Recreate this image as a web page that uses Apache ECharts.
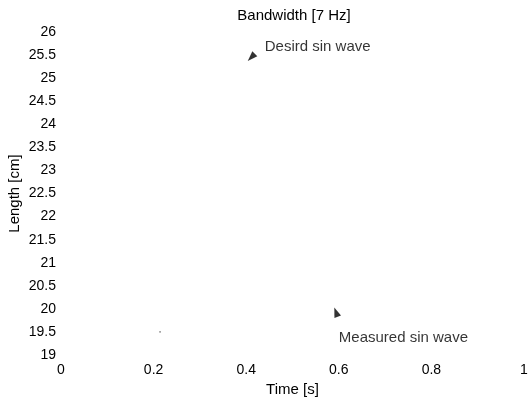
<!DOCTYPE html>
<html>
<head>
<meta charset="utf-8">
<script src="https://cdn.jsdelivr.net/npm/echarts@6/dist/echarts.min.js"></script>
<style>
    html, body { margin: 0; padding: 0; background: #fff; }
    #chart { width: 532px; height: 401px; }
</style>
</head>
<body>
<div id="chart"></div>
<script>
// traces left on the plot
let residueX = [0.212, 0.216];
let residueY = [19.5, 19.5];

// annotation arrowheads and their text
let arrowNames = ["Desird sin wave", "Measured sin wave"];
let arrowX = [0.411, 0.594];
let arrowY = [25.45, 19.93];
let arrowRotate = [135, 20];
let textX = [0.44, 0.6];
let textY = [25.67, 19.37];

let xTicks = [0, 0.2, 0.4, 0.6, 0.8, 1];
let yMin = 19, yMax = 26, yStep = 0.5;

let font = "Liberation Sans, Arial, sans-serif";
let chart = echarts.init(document.getElementById("chart"));

let arrowData = arrowX.map(function (x, i) {
    return { value: [x, arrowY[i]], symbolRotate: arrowRotate[i] };
});
let textData = textX.map(function (x, i) {
    return { value: [x, textY[i]], name: arrowNames[i] };
});

chart.setOption({
    animation: false,
    title: {
        text: "Bandwidth [7 Hz]",
        left: 289,
        textAlign: "center",
        top: 3,
        textStyle: { fontFamily: font, fontSize: 15, fontWeight: "normal", color: "#000" },
    },
    grid: { left: 61, right: 8, top: 32, bottom: 46, outerBoundsMode: "none", containLabel: false },
    xAxis: {
        type: "value",
        min: 0,
        max: 1,
        interval: 0.2,
        name: "Time [s]",
        nameLocation: "middle",
        nameGap: 27,
        nameTextStyle: { fontFamily: font, fontSize: 15, color: "#000" },
        axisLine: { show: false },
        axisTick: { show: false },
        splitLine: { show: false },
        axisLabel: {
            margin: 8,
            fontFamily: font,
            fontSize: 14,
            color: "#000",
            formatter: function (v) { return String(+v.toFixed(1)); },
        },
    },
    yAxis: {
        type: "value",
        min: yMin,
        max: yMax,
        interval: yStep,
        name: "Length [cm]",
        nameLocation: "middle",
        nameGap: 39,
        nameMoveOverlap: false,
        nameTextStyle: { fontFamily: font, fontSize: 15, color: "#000" },
        axisLine: { show: false },
        axisTick: { show: false },
        splitLine: { show: false },
        axisLabel: { margin: 5, fontFamily: font, fontSize: 14, color: "#000" },
    },
    series: [
        {
            type: "line",
            data: residueX.map(function (x, i) { return [x, residueY[i]]; }),
            symbol: "none",
            lineStyle: { color: "#666", width: 1 },
        },
        {
            type: "scatter",
            data: arrowData,
            symbol: "triangle",
            symbolSize: [7, 10],
            itemStyle: { color: "#000" },
        },
        {
            type: "scatter",
            data: textData,
            symbolSize: 0,
            label: {
                show: true,
                position: "right",
                distance: 0,
                formatter: "{b}",
                fontFamily: font,
                fontSize: 15,
                color: "#000",
            },
        },
    ],
});
</script>
</body>
</html>
